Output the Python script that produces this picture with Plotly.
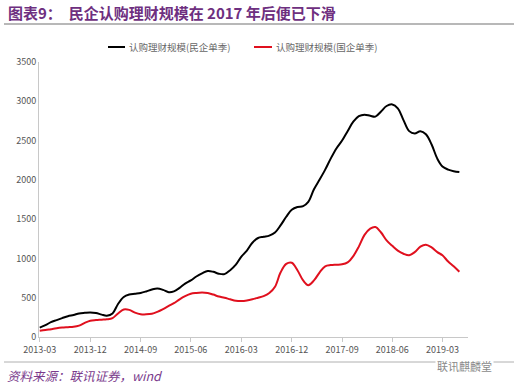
import plotly.graph_objects as go
import pandas as pd

# ---- data ----
months = pd.date_range("2013-03-01", "2019-06-01", freq="MS").strftime("%Y-%m-%d").tolist()

private_sub = [120, 150, 190, 215, 240, 265, 280, 300, 308, 313,
               305, 285, 272, 300, 420, 510, 540, 550, 560, 580,
               605, 618, 600, 570, 580, 625, 680, 720, 770, 810,
               840, 830, 805, 800, 850, 920, 1020, 1100, 1200, 1260,
               1275, 1290, 1330, 1420, 1530, 1620, 1655, 1665, 1720, 1880,
               2000, 2130, 2270, 2400, 2500, 2620, 2740, 2810, 2830, 2815,
               2805, 2870, 2940, 2960, 2910, 2760, 2620, 2590, 2620, 2580,
               2450, 2270, 2170, 2130, 2110, 2100]

state_sub = [80, 88, 100, 112, 120, 125, 130, 145, 180, 207,
             215, 220, 225, 240, 300, 350, 345, 310, 290, 288,
             295, 320, 355, 395, 430, 480, 520, 550, 560, 565,
             560, 540, 515, 500, 480, 462, 458, 465, 480, 500,
             520, 560, 640, 820, 930, 945, 850, 720, 660, 720,
             820, 900, 915, 920, 925, 950, 1030, 1150, 1300, 1380,
             1400, 1330, 1230, 1160, 1100, 1060, 1040, 1080, 1150, 1175,
             1140, 1080, 1040, 960, 900, 830]

series_names = ["认购理财规模(民企单季)", "认购理财规模(国企单季)"]
tick_dates = ["2013-03-01", "2013-12-01", "2014-09-01", "2015-06-01", "2016-03-01",
              "2016-12-01", "2017-09-01", "2018-06-01", "2019-03-01"]
tick_labels = ["2013-03", "2013-12", "2014-09", "2015-06", "2016-03",
               "2016-12", "2017-09", "2018-06", "2019-03"]
y_ticks = [0, 500, 1000, 1500, 2000, 2500, 3000, 3500]

title_text = "图表9：  民企认购理财规模在 2017 年后便已下滑"
source_text = "资料来源：联讯证券，wind"
watermark_text = "联讯麒麟堂"

# ---- figure ----
FONT = "Noto Sans CJK SC, Liberation Sans, sans-serif"
W, H = 518, 386
ml, mr, mt, mb = 39, 50, 62, 49

fig = go.Figure()
fig.add_trace(go.Scatter(x=months, y=private_sub, mode="lines", name=series_names[0],
                         line=dict(color="#000000", width=2, shape="spline"), showlegend=False))
fig.add_trace(go.Scatter(x=months, y=state_sub, mode="lines", name=series_names[1],
                         line=dict(color="#e0101e", width=2, shape="spline"), showlegend=False))

fig.update_layout(
    width=W, height=H,
    margin=dict(l=ml, r=mr, t=mt, b=mb),
    paper_bgcolor="white", plot_bgcolor="white",
    font=dict(family=FONT, size=9, color="#555555"),
)
fig.update_xaxes(
    type="date", range=["2013-02-25", "2019-07-18"],
    tickmode="array", tickvals=tick_dates, ticktext=tick_labels,
    showline=True, linecolor="#c8c8c8", linewidth=1,
    ticks="outside", ticklen=4, tickcolor="#c8c8c8",
    showgrid=False, zeroline=False,
    tickfont=dict(size=9, color="#555555"),
)
fig.update_yaxes(
    range=[0, 3500], tickmode="array", tickvals=y_ticks,
    showline=True, linecolor="#c8c8c8", linewidth=1,
    ticks="", showgrid=False, zeroline=False,
    tickfont=dict(size=9, color="#555555"),
)

def px_x(px):
    return (px - ml) / (W - ml - mr)

def px_y(py):
    return 1 - (py - mt) / (H - mt - mb)

shapes = []
shapes.append(dict(type="line", xref="paper", yref="paper",
                   x0=px_x(4), x1=px_x(514), y0=px_y(24), y1=px_y(24),
                   line=dict(color="#a0a0a0", width=1.5)))
shapes.append(dict(type="line", xref="paper", yref="paper",
                   x0=px_x(4), x1=px_x(514), y0=px_y(362), y1=px_y(362),
                   line=dict(color="#b0b0b0", width=1)))
shapes.append(dict(type="line", xref="paper", yref="paper",
                   x0=px_x(108), x1=px_x(125), y0=px_y(47), y1=px_y(47),
                   line=dict(color="#000000", width=2)))
shapes.append(dict(type="line", xref="paper", yref="paper",
                   x0=px_x(254), x1=px_x(272), y0=px_y(47), y1=px_y(47),
                   line=dict(color="#e0101e", width=2)))
fig.update_layout(shapes=shapes)

ann = []
ann.append(dict(text="<b>" + title_text + "</b>", xref="paper", yref="paper",
                x=px_x(6), y=px_y(13), xanchor="left", yanchor="middle", showarrow=False,
                font=dict(family=FONT, size=15, color="#6e2f80")))
ann.append(dict(text=series_names[0], xref="paper", yref="paper",
                x=px_x(127), y=px_y(47), xanchor="left", yanchor="middle", showarrow=False,
                font=dict(family=FONT, size=9.5, color="#666666")))
ann.append(dict(text=series_names[1], xref="paper", yref="paper",
                x=px_x(274), y=px_y(47), xanchor="left", yanchor="middle", showarrow=False,
                font=dict(family=FONT, size=9.5, color="#666666")))
ann.append(dict(text="<i>" + source_text + "</i>", xref="paper", yref="paper",
                x=px_x(5), y=px_y(375), xanchor="left", yanchor="middle", showarrow=False,
                font=dict(family=FONT, size=12.5, color="#7a3a8c")))
ann.append(dict(text=watermark_text, xref="paper", yref="paper",
                x=px_x(494), y=px_y(366), xanchor="right", yanchor="middle", showarrow=False,
                bgcolor="white",
                font=dict(family=FONT, size=11, color="#8a8a8a")))
fig.update_layout(annotations=ann)

fig.write_html("out.html", config={"displayModeBar": False},
               post_script="document.body.style.margin='0';document.body.style.overflow='hidden';")
